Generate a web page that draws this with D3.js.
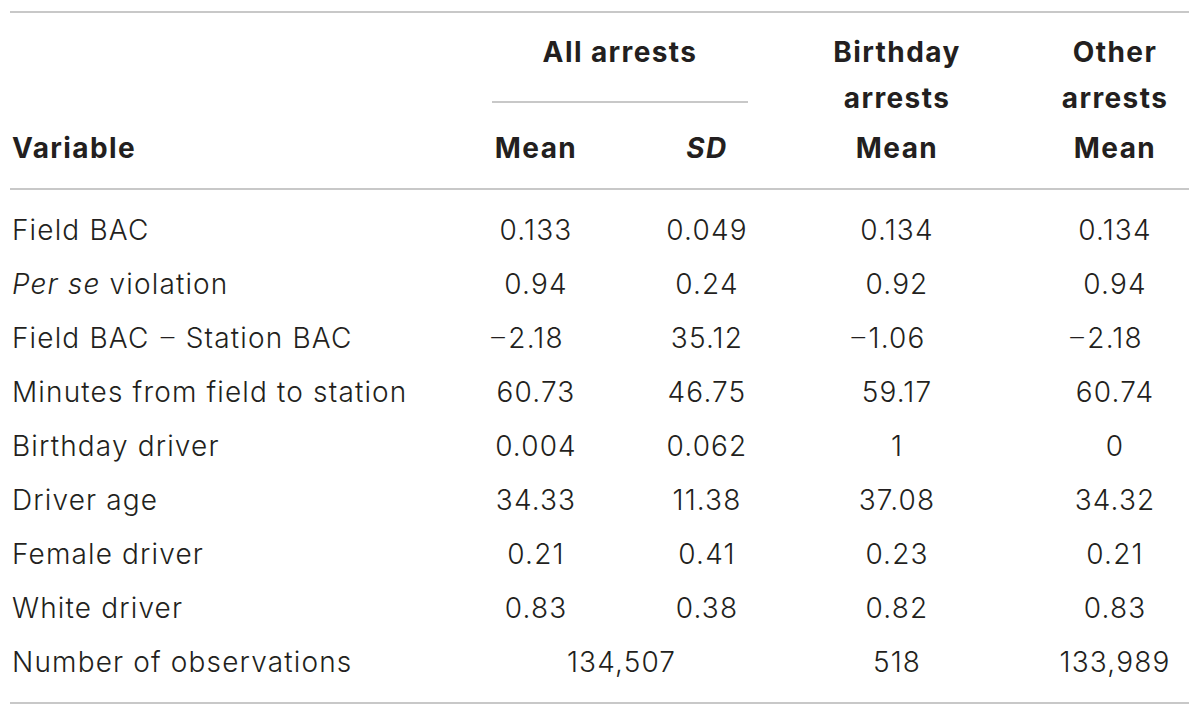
<!DOCTYPE html>
<html>
<head>
<meta charset="utf-8">
<script src="https://cdn.jsdelivr.net/npm/d3@7"></script>
<style>
  html, body { margin: 0; padding: 0; background: #fff; }
  svg { display: block; }
  .body-text { font-family: "Inter", "Roboto", sans-serif; font-weight: 300; font-size: 28px; letter-spacing: 1.15px; fill: #231f20; }
  .head-text { font-family: "Inter", "Liberation Sans", sans-serif; font-weight: 700; font-size: 28px; letter-spacing: 1.4px; fill: #231f20; }
  .dash { font-family: "Roboto", sans-serif; font-weight: 300; letter-spacing: 0; }
</style>
</head>
<body>
<svg id="chart" width="1200" height="717"></svg>
<script>
// Table data
const variables = [
    "Field BAC",
    "<i>Per se</i> violation",
    "Field BAC – Station BAC",
    "Minutes from field to station",
    "Birthday driver",
    "Driver age",
    "Female driver",
    "White driver"
];
const allMean = ["0.133", "0.94", "−2.18", "60.73", "0.004", "34.33", "0.21", "0.83"];
const allSD = ["0.049", "0.24", "35.12", "46.75", "0.062", "11.38", "0.41", "0.38"];
const birthdayMean = ["0.134", "0.92", "−1.06", "59.17", "1", "37.08", "0.23", "0.82"];
const otherMean = ["0.134", "0.94", "−2.18", "60.74", "0", "34.32", "0.21", "0.83"];

const obsLabel = "Number of observations";
const obsAll = 134507;
const obsBirthday = 518;
const obsOther = 133989;

const svg = d3.select("#chart");

// Column centres
const col = {
    variable: 12,
    allMean: 536,
    allSD: 707,
    birthday: 897,
    other: 1115
};
const allSpan = [492, 748];

// Row layout
const rowKeys = variables.map((d, i) => i).concat(["obs"]);
const y = d3.scaleBand()
    .domain(rowKeys)
    .range([203, 689])
    .padding(0);
const baseline = k => y(k) + y.bandwidth() / 2 + 10;

// Rules
const rule = (x1, x2, yy) => svg.append("line")
    .attr("x1", x1).attr("x2", x2)
    .attr("y1", yy).attr("y2", yy)
    .attr("stroke", "#c8c8c8")
    .attr("stroke-width", 2);

rule(10, 1189, 12);
rule(allSpan[0], allSpan[1], 102);
rule(10, 1189, 189);
rule(10, 1189, 703);

// Header
const head = svg.append("g").attr("class", "head-text");
head.append("text").attr("x", (allSpan[0] + allSpan[1]) / 2).attr("y", 62)
    .attr("text-anchor", "middle").text("All arrests");
head.append("text").attr("x", col.variable).attr("y", 158).text("Variable");
head.append("text").attr("x", col.allMean).attr("y", 158)
    .attr("text-anchor", "middle").text("Mean");
head.append("text").attr("x", col.allSD).attr("y", 158)
    .attr("text-anchor", "middle").attr("font-style", "italic").text("SD");

[["Birthday", col.birthday], ["Other", col.other]].forEach(([label, x]) => {
    head.append("text").attr("x", x).attr("y", 62).attr("text-anchor", "middle").text(label);
    head.append("text").attr("x", x).attr("y", 108).attr("text-anchor", "middle").text("arrests");
    head.append("text").attr("x", x).attr("y", 158).attr("text-anchor", "middle").text("Mean");
});

// Body
const body = svg.append("g").attr("class", "body-text");

// Variable labels (with <i> parts in italic, dashes in a wider face)
variables.forEach((v, i) => {
    const t = body.append("text").attr("x", col.variable).attr("y", baseline(i));
    v.split(/(<i>.*?<\/i>|–)/).filter(s => s.length).forEach(part => {
        const italic = part.startsWith("<i>");
        t.append("tspan")
            .attr("font-style", italic ? "italic" : null)
            .classed("dash", part === "–")
            .text(part.replace(/<\/?i>/g, ""));
    });
});

// Centred numbers, with a leading minus hanging to the left
const numCell = (value, x, yy) => {
    const neg = value.startsWith("−");
    const digits = neg ? value.slice(1) : value;
    const t = body.append("text")
        .attr("x", x).attr("y", yy)
        .attr("text-anchor", "middle")
        .text(digits);
    if (neg) {
        const w = t.node().getComputedTextLength();
        body.append("text")
            .attr("class", "dash")
            .attr("x", x - w / 2 - 1).attr("y", yy)
            .attr("text-anchor", "end")
            .text("–");
    }
};

variables.forEach((v, i) => {
    numCell(allMean[i], col.allMean, baseline(i));
    numCell(allSD[i], col.allSD, baseline(i));
    numCell(birthdayMean[i], col.birthday, baseline(i));
    numCell(otherMean[i], col.other, baseline(i));
});

// Observations row
const fmt = d3.format(",");
body.append("text").attr("x", col.variable).attr("y", baseline("obs")).text(obsLabel);
numCell(fmt(obsAll), (col.allMean + col.allSD) / 2, baseline("obs"));
numCell(fmt(obsBirthday), col.birthday, baseline("obs"));
numCell(fmt(obsOther), col.other, baseline("obs"));
</script>
</body>
</html>
